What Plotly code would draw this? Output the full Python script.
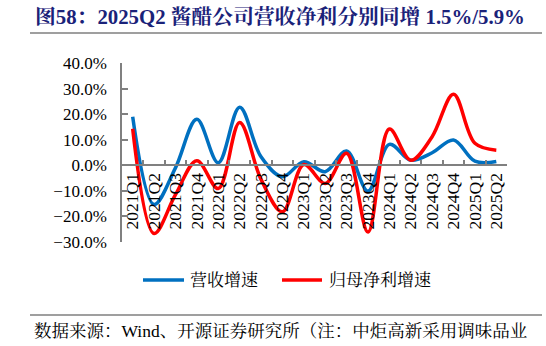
import plotly.graph_objects as go

quarters = ["2021Q1", "2021Q2", "2021Q3", "2021Q4", "2022Q1", "2022Q2", "2022Q3", "2022Q4",
            "2023Q1", "2023Q2", "2023Q3", "2023Q4", "2024Q1", "2024Q2", "2024Q3", "2024Q4",
            "2025Q1", "2025Q2"]
revenue_growth = [19.0, -15.3, -1.0, 18.0, 1.0, 22.7, 3.3, -4.5, 1.4, -2.5, 5.6, -10.1,
                  8.2, 2.0, 4.9, 9.9, 1.6, 1.5]
profit_growth = [14.3, -26.7, -11.5, 1.8, -9.1, 16.7, -5.5, -18.2, 0.3, -7.1, 4.7, -26.1,
                 14.2, 2.0, 11.2, 27.8, 8.6, 5.9]
series_names = ["营收增速", "归母净利增速"]

BLUE = "#0070C0"
RED = "#FF0000"
SERIF = "Liberation Serif, Times New Roman, Noto Sans CJK SC"
CJK = "Liberation Serif, Noto Serif CJK SC, Noto Sans CJK SC"

W, H = 546, 346
L, R, T, B = 122, 39, 63, 104
PW, PH = W - L - R, H - T - B


def px(x):
    return (x - L) / PW


def py(y):
    return (H - B - y) / PH


fig = go.Figure()
fig.add_trace(go.Scatter(x=quarters, y=revenue_growth, mode="lines", name=series_names[0],
                         line=dict(color=BLUE, width=3.5, shape="spline", smoothing=1.0)))
fig.add_trace(go.Scatter(x=quarters, y=profit_growth, mode="lines", name=series_names[1],
                         line=dict(color=RED, width=3.5, shape="spline", smoothing=1.0)))

fig.update_layout(
    width=W, height=H,
    margin=dict(l=L, r=R, t=T, b=B),
    paper_bgcolor="white", plot_bgcolor="white",
    showlegend=False,
    xaxis=dict(
        type="category", anchor="free", position=30 / 70,
        range=[-0.5, len(quarters) - 0.5],
        tickmode="linear", tick0=0, dtick=1,
        showline=True, linecolor="#808080", linewidth=1.5,
        ticks="inside", ticklen=5, tickcolor="#808080", tickwidth=1.5,
        tickson="boundaries", tickangle=-90,
        tickfont=dict(family=SERIF, size=17.5, color="black"),
        showgrid=False, zeroline=False,
    ),
    yaxis=dict(
        range=[-30, 40], dtick=10, tick0=0,
        showline=True, linecolor="#808080", linewidth=1.5,
        ticks="inside", ticklen=6, tickcolor="#808080", tickwidth=1.5,
        tickformat=".1f", ticksuffix="%",
        ticklabelstandoff=10,
        tickfont=dict(family=SERIF, size=17, color="black"),
        showgrid=False, zeroline=False,
    ),
)

# title and rules
fig.add_annotation(xref="paper", yref="paper", x=px(33), y=py(16), xanchor="left", yanchor="middle",
                   text="<b>图58：2025Q2 酱醋公司营收净利分别同增 1.5%/5.9%</b>", showarrow=False,
                   font=dict(family=CJK, size=20.8, color="#1A2279"))
fig.add_shape(type="line", xref="paper", yref="paper", x0=px(30), x1=px(542), y0=py(33), y1=py(33),
              line=dict(color="#7F7F7F", width=1.5))
fig.add_shape(type="line", xref="paper", yref="paper", x0=px(30), x1=px(542), y0=py(315), y1=py(315),
              line=dict(color="#7F7F7F", width=1.5))

# legend
for (x0, x1, tx), color, name in zip([(143, 184, 188), (282, 322, 327)], [BLUE, RED], series_names):
    fig.add_shape(type="line", xref="paper", yref="paper", x0=px(x0), x1=px(x1), y0=py(280), y1=py(280),
                  line=dict(color=color, width=3.5))
    fig.add_annotation(xref="paper", yref="paper", x=px(tx), y=py(280), xanchor="left", yanchor="middle",
                       text=name, showarrow=False, font=dict(family=CJK, size=17, color="black"))

fig.add_annotation(xref="paper", yref="paper", x=px(32), y=py(331), xanchor="left", yanchor="middle",
                   text="数据来源：Wind、开源证券研究所（注：中炬高新采用调味品业", showarrow=False,
                   font=dict(family=CJK, size=17.5, color="black"))

fig.write_html("out.html")
